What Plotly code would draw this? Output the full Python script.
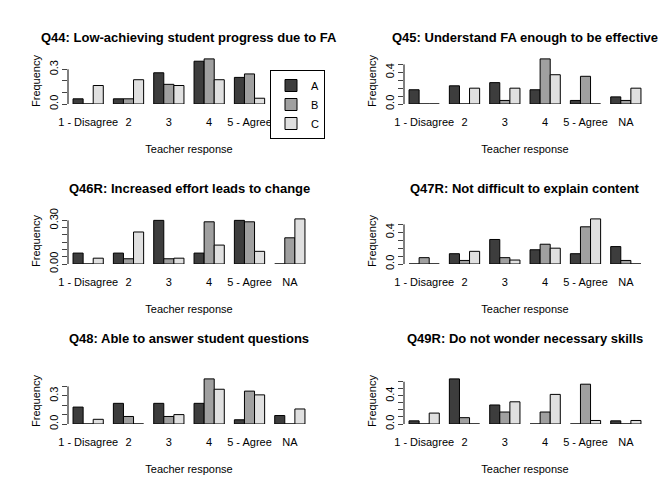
import plotly.graph_objects as go

categories = ["1 - Disagree", "2", "3", "4", "5 - Agree", "NA"]
groups = ["A", "B", "C"]
colors = ["#3d3d3d", "#a0a0a0", "#e0e0e0"]

titles = ["Q44: Low-achieving student progress due to FA",
          "Q45: Understand FA enough to be effective",
          "Q46R: Increased effort leads to change",
          "Q47R: Not difficult to explain content",
          "Q48: Able to answer student questions",
          "Q49R: Do not wonder necessary skills"]

q44 = {"A": [0.045, 0.045, 0.27, 0.37, 0.23, 0.0],
       "B": [0.0, 0.045, 0.17, 0.39, 0.26, 0.0],
       "C": [0.16, 0.21, 0.16, 0.21, 0.05, 0.0]}
q45 = {"A": [0.18, 0.23, 0.27, 0.18, 0.045, 0.09],
       "B": [0.0, 0.0, 0.045, 0.57, 0.35, 0.045],
       "C": [0.0, 0.2, 0.2, 0.37, 0.0, 0.2]}
q46 = {"A": [0.075, 0.075, 0.30, 0.075, 0.30, 0.0],
       "B": [0.0, 0.036, 0.036, 0.29, 0.29, 0.18],
       "C": [0.04, 0.22, 0.04, 0.13, 0.087, 0.31]}
q47 = {"A": [0.0, 0.13, 0.31, 0.18, 0.13, 0.22],
       "B": [0.08, 0.045, 0.08, 0.25, 0.47, 0.045],
       "C": [0.0, 0.16, 0.05, 0.2, 0.57, 0.0]}
q48 = {"A": [0.18, 0.22, 0.22, 0.22, 0.045, 0.09],
       "B": [0.0, 0.08, 0.08, 0.48, 0.35, 0.0],
       "C": [0.05, 0.0, 0.1, 0.37, 0.31, 0.16]}
q49 = {"A": [0.045, 0.64, 0.27, 0.0, 0.0, 0.045],
       "B": [0.0, 0.09, 0.17, 0.17, 0.565, 0.0],
       "C": [0.155, 0.0, 0.315, 0.42, 0.05, 0.05]}
panels = [q44, q45, q46, q47, q48, q49]

# y tick positions and which ones get labels
yticks = [[0, 0.1, 0.2, 0.3], [0, 0.1, 0.2, 0.3, 0.4, 0.5],
          [0, 0.05, 0.1, 0.15, 0.2, 0.25, 0.3], [0, 0.1, 0.2, 0.3, 0.4, 0.5],
          [0, 0.1, 0.2, 0.3, 0.4], [0, 0.1, 0.2, 0.3, 0.4, 0.5, 0.6]]
ylabels = [["0.0", "", "", "0.3"], ["0.0", "", "", "", "0.4", ""],
           ["0.00", "", "", "", "", "", "0.30"], ["0.0", "", "", "", "0.4", ""],
           ["0.0", "", "", "0.3", ""], ["0.0", "", "", "", "0.4", "", ""]]

W, H = 672, 480
xdoms = [[60 / W, 302 / W], [396 / W, 638 / W]]
baselines = [94, 254, 414]
ph = 44

font = dict(family="Liberation Sans, Arial, sans-serif", color="black")
fig = go.Figure()
annotations = []
shapes = []
for i, data in enumerate(panels):
    r, c = divmod(i, 2)
    n = str(i + 1) if i else ""
    ymax = max(max(v) for v in data.values())
    for g, col in zip(groups, colors):
        fig.add_trace(go.Bar(x=categories, y=data[g], name=g, marker_color=col,
                             marker_line=dict(color="black", width=1),
                             xaxis="x" + n, yaxis="y" + n, showlegend=(i == 0)))
    b = baselines[r]
    fig.update_layout(**{
        "xaxis" + n: dict(domain=xdoms[c], anchor="y" + n, showgrid=False, showline=False,
                          ticks="", tickfont=dict(size=11), ticklabelstandoff=10,
                          automargin=False,
                          title=dict(text="Teacher response", font=dict(size=11), standoff=18)),
        "yaxis" + n: dict(domain=[1 - (b + 2) / H, 1 - (b - ph) / H], anchor="x" + n,
                          range=[0, ymax * 1.02], showgrid=False, zeroline=False,
                          tickvals=yticks[i], ticktext=ylabels[i], ticks="outside",
                          ticklen=5, tickangle=-90, tickfont=dict(size=11),
                          automargin=False,
                          title=dict(text="Frequency", font=dict(size=11), standoff=4)),
    })
    shapes.append(dict(type="line", xref="x" + n + " domain", yref="y" + n,
                       x0=0, x1=0, y0=0, y1=yticks[i][-1], line=dict(color="black", width=1)))
    annotations.append(dict(text="<b>" + titles[i] + "</b>", showarrow=False,
                            xref="x" + n + " domain", yref="paper", x=0.5,
                            y=1 - (b - 74) / H, font=dict(size=13)))

fig.update_layout(width=W, height=H,
                  margin=dict(l=0, r=0, t=0, b=0, autoexpand=False),
                  plot_bgcolor="white", paper_bgcolor="white", font=font,
                  barmode="group", bargap=0.25, bargroupgap=0,
                  annotations=annotations, shapes=shapes,
                  legend=dict(x=262 / W, y=1 - 62 / H, xanchor="left", yanchor="top",
                              bordercolor="black", borderwidth=1, bgcolor="white",
                              font=dict(size=11), itemwidth=30, tracegroupgap=0))
fig.write_html("out.html")
